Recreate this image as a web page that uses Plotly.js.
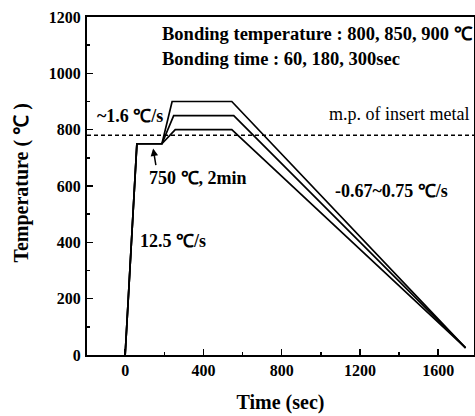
<!DOCTYPE html>
<html>
<head>
<meta charset="utf-8">
<script src="https://cdn.plot.ly/plotly-3.0.1.min.js"></script>
<style>html,body{margin:0;padding:0;background:#fff;}#chart{width:475px;height:416px;}</style>
</head>
<body>
<div id="chart"></div>
<script>
// Thermal cycle data (time in sec, temperature in ℃)
const time900 = [0, 60, 188, 240, 545, 1740];
const temp900 = [0, 750, 750, 900, 900, 25];
const time850 = [0, 60, 188, 248, 555, 1740];
const temp850 = [0, 750, 750, 850, 850, 25];
const time800 = [0, 60, 188, 256, 545, 1740];
const temp800 = [0, 750, 750, 800, 800, 25];
const meltingPoint = 780;
const xTicks = [0, 400, 800, 1200, 1600];
const yTicks = [0, 200, 400, 600, 800, 1000, 1200];

const serif = 'Liberation Serif, Times New Roman, serif';
const lineStyle = {color: '#000', width: 1.7};

const traces = [
  {x: time900, y: temp900, mode: 'lines', line: lineStyle, hoverinfo: 'skip'},
  {x: time850, y: temp850, mode: 'lines', line: lineStyle, hoverinfo: 'skip'},
  {x: time800, y: temp800, mode: 'lines', line: lineStyle, hoverinfo: 'skip'}
];

function ann(text, x, y, opts) {
  return Object.assign({text: text, x: x, y: y, xref: 'x', yref: 'y', showarrow: false,
    xanchor: 'left', yanchor: 'middle',
    font: {family: serif, size: 18, color: '#000', weight: 'bold'}}, opts || {});
}

const layout = {
  width: 475, height: 416,
  margin: {l: 87, r: 1, t: 17, b: 61},
  paper_bgcolor: '#fff', plot_bgcolor: '#fff',
  showlegend: false,
  xaxis: {
    range: [-195, 1783], tickvals: xTicks, ticktext: xTicks.map(String),
    ticks: 'inside', ticklen: 6, tickwidth: 1.5, tickcolor: '#000',
    minor: {dtick: 200, tick0: 0, ticks: 'inside', ticklen: 3, tickwidth: 1.5, tickcolor: '#000'},
    showline: true, linewidth: 2, linecolor: '#000', mirror: true,
    showgrid: false, zeroline: false,
    tickfont: {family: serif, size: 16, color: '#000', weight: 'bold'},
    title: {text: 'Time (sec)', font: {family: serif, size: 20, color: '#000', weight: 'bold'}, standoff: 17}
  },
  yaxis: {
    range: [0, 1200], tickvals: yTicks, ticktext: yTicks.map(String),
    ticks: 'inside', ticklen: 6, tickwidth: 1.5, tickcolor: '#000',
    minor: {dtick: 100, tick0: 0, ticks: 'inside', ticklen: 3, tickwidth: 1.5, tickcolor: '#000'},
    showline: true, linewidth: 2, linecolor: '#000', mirror: true,
    showgrid: false, zeroline: false,
    tickfont: {family: serif, size: 16, color: '#000', weight: 'bold'},
    ticklabelstandoff: 1
  },
  shapes: [{
    type: 'line', xref: 'paper', x0: 0, x1: 1, yref: 'y', y0: meltingPoint, y1: meltingPoint,
    line: {color: '#000', width: 1.5, dash: '4px,3px'}
  }],
  annotations: [
    {text: 'Temperature ( ℃ )', xref: 'paper', yref: 'paper', x: -0.168, y: 0.51,
     xanchor: 'center', yanchor: 'middle', textangle: -90, showarrow: false,
     font: {family: serif, size: 20, color: '#000', weight: 'bold'}},
    ann('Bonding temperature : 800, 850, 900 ℃', 177, 1140, {font: {family: serif, size: 18.5, color: '#000', weight: 'bold'}}),
    ann('Bonding time : 60, 180, 300sec', 177, 1051, {font: {family: serif, size: 18.5, color: '#000', weight: 'bold'}}),
    ann('m.p. of insert metal', 1766, 857, {xanchor: 'right', font: {family: serif, size: 18, color: '#000'}}),
    ann('~1.6 ℃/s', -154, 850),
    ann('750 ℃, 2min', 113, 630),
    ann('-0.67~0.75 ℃/s', 1060, 584),
    ann('12.5 ℃/s', 67, 404),
    {x: 143, y: 733, xref: 'x', yref: 'y', ax: 3, ay: 18, showarrow: true,
     arrowhead: 2, arrowsize: 1, arrowwidth: 1.5, arrowcolor: '#000', text: ''}
  ]
};

Plotly.newPlot('chart', traces, layout, {staticPlot: true, displayModeBar: false});
</script>
</body>
</html>
